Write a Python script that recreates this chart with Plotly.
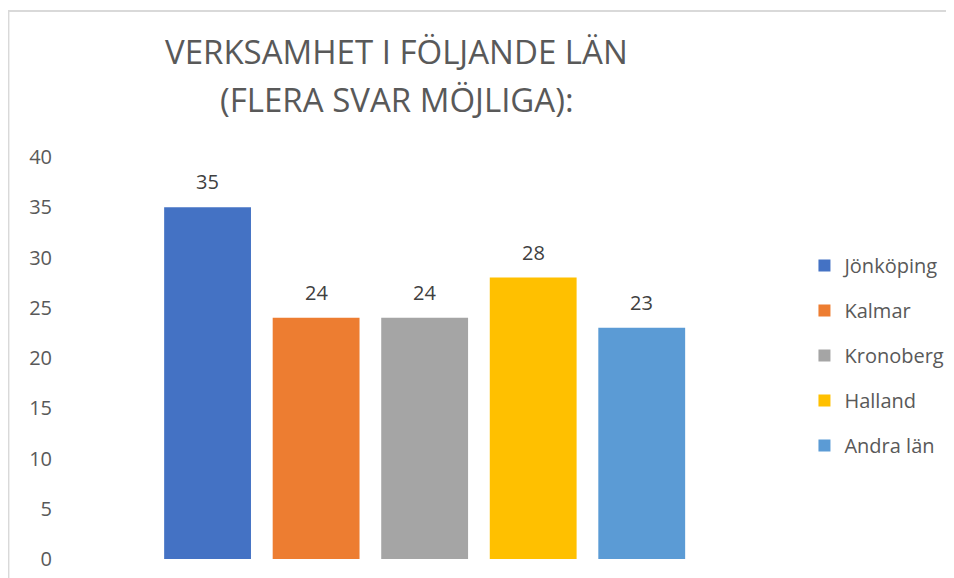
"""Bar chart: verksamhet i följande län."""

import plotly.graph_objects as go

LAN = ["Jönköping", "Kalmar", "Kronoberg", "Halland", "Andra län"]
ANTAL = [35, 24, 24, 28, 23]
FARGER = ["#4472C4", "#ED7D31", "#A5A5A5", "#FFC000", "#5B9BD5"]
Y_TICKS = [0, 5, 10, 15, 20, 25, 30, 35, 40]
TITEL = ["VERKSAMHET I FÖLJANDE LÄN", "(FLERA SVAR MÖJLIGA):"]

FONT = "Open Sans, Noto Sans, sans-serif"
GREY = "#595959"

fig = go.Figure()
for i, (name, val, col) in enumerate(zip(LAN, ANTAL, FARGER)):
    fig.add_trace(
        go.Bar(
            x=[i],
            y=[val],
            name=name,
            legendgroup=name,
            marker=dict(color=col, line=dict(width=0)),
        )
    )
    # value label above each bar
    fig.add_annotation(
        x=i,
        y=val,
        text=str(val),
        showarrow=False,
        yanchor="bottom",
        yshift=10,
        font=dict(family=FONT, size=20, color="#404040"),
    )

# two title lines, placed separately to get Excel's line spacing
for line, ypos in zip(TITEL, [1.2612, 1.1418]):
    fig.add_annotation(
        xref="paper",
        yref="paper",
        x=0.5306,
        y=ypos,
        text=line,
        showarrow=False,
        xanchor="center",
        yanchor="middle",
        font=dict(family=FONT, size=33, color=GREY),
    )

fig.update_layout(
    width=954,
    height=578,
    paper_bgcolor="white",
    plot_bgcolor="white",
    margin=dict(l=50, r=264, t=149, b=27),
    bargap=0.2,
    xaxis=dict(
        range=[-1.378, 4.5],
        showticklabels=False,
        showgrid=False,
        zeroline=False,
        showline=False,
    ),
    yaxis=dict(
        range=[0, 40],
        tickvals=Y_TICKS,
        showgrid=False,
        zeroline=False,
        showline=False,
        tickfont=dict(family=FONT, size=20, color=GREY),
        ticks="",
        ticklabelstandoff=5,
    ),
    legend=dict(
        x=1.17,
        xanchor="left",
        y=0.5063,
        yanchor="middle",
        traceorder="grouped",
        tracegroupgap=16,
        font=dict(family=FONT, size=20, color=GREY),
    ),
    shapes=[
        dict(
            type="rect",
            xref="paper",
            yref="paper",
            x0=-0.0777,
            x1=1.5,
            y0=-0.2,
            y1=1.3632,
            line=dict(color="#d9d9d9", width=2),
            fillcolor="rgba(0,0,0,0)",
            layer="below",
        )
    ],
)

fig.write_html("out.html")
